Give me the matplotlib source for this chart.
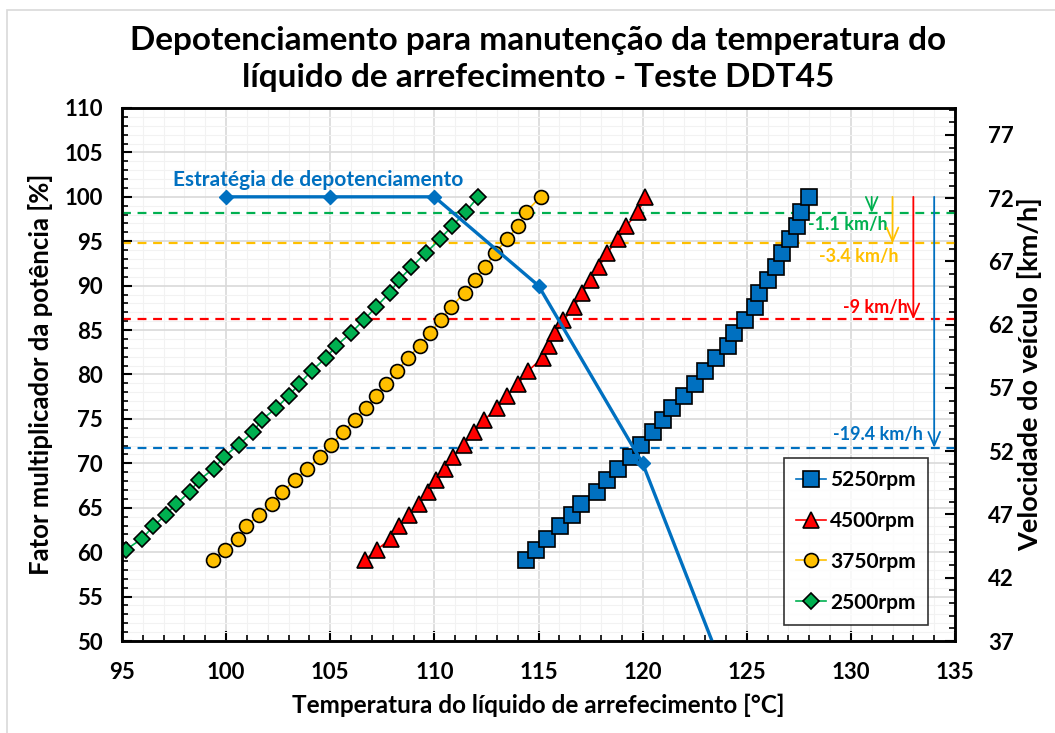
import matplotlib
matplotlib.use("Agg")
import matplotlib.pyplot as plt
from matplotlib.ticker import MultipleLocator, FixedLocator
from matplotlib.patches import Rectangle

plt.rcParams['font.family'] = ['Lato', 'DejaVu Sans']
plt.rcParams['font.weight'] = 'bold'

# power multiplier levels [%] shared by the rpm series
p_levels = [59.1, 60.3, 61.5, 62.9, 64.2, 65.4, 66.8, 68.1, 69.4, 70.75,
            72.1, 73.5, 74.9, 76.2, 77.6, 78.9, 80.4, 81.9, 83.25, 84.7,
            86.1, 87.6, 89.2, 90.65, 92.1, 93.7, 95.2, 96.7, 98.3, 100.0]

t_5250 = [114.4, 114.9, 115.4, 116.05, 116.6, 117.05, 117.8, 118.3, 118.8, 119.45,
          119.9, 120.5, 121.0, 121.4, 122.0, 122.5, 123.0, 123.5, 124.1, 124.4,
          124.9, 125.4, 125.6, 126.0, 126.4, 126.7, 127.1, 127.4, 127.6, 128.0]
t_4500 = [106.65, 107.25, 107.9, 108.3, 108.8, 109.25, 109.7, 110.1, 110.5, 110.9,
          111.4, 111.9, 112.4, 113.0, 113.5, 114.0, 114.5, 115.2, 115.5, 115.8,
          116.2, 116.7, 117.1, 117.5, 117.9, 118.3, 118.8, 119.2, 119.8, 120.1]
t_3750 = [99.35, 99.95, 100.55, 100.95, 101.6, 102.2, 102.7, 103.3, 103.9, 104.5,
          105.05, 105.6, 106.2, 106.7, 107.2, 107.7, 108.2, 108.75, 109.3, 109.8,
          110.3, 110.8, 111.45, 111.95, 112.45, 112.9, 113.5, 114.0, 114.4, 115.1]
# 2500rpm starts at the second level (first one is off the axis)
t_2500 = [95.2, 95.95, 96.5, 97.1, 97.6, 98.25, 98.7, 99.4, 99.9, 100.6,
          101.3, 101.7, 102.4, 103.0, 103.5, 104.1, 104.8, 105.3, 106.0, 106.6,
          107.2, 107.85, 108.3, 108.9, 109.6, 110.25, 110.85, 111.5, 112.1]

# derating strategy
strat_t = [100, 105, 110, 115, 120, 125]
strat_p = [100, 100, 100, 90, 70, 40]

# speed loss reference lines
ref_levels = [98.2, 94.75, 86.2, 71.75]
ref_colors = ['#00B050', '#FFC000', '#FF0000', '#0070C0']
ref_labels = ['-1.1 km/h', '-3.4 km/h', '-9 km/h', '-19.4 km/h']
arrow_x = [131, 132, 133, 134]
label_xy = [(129.85, 96.85), (130.4, 93.3), (131.2, 87.5), (131.3, 73.3)]

speed_ticks = [37, 42, 47, 52, 57, 62, 67, 72, 77]

fig = plt.figure(figsize=(10.55, 7.33), dpi=100)
ax = fig.add_axes([122 / 1055, 1 - 641 / 733, 833 / 1055, 533 / 733])

# light frame around the chart area
fig.patches.append(Rectangle((7 / 1055, -0.1), 1.2, 1 - 10 / 733 + 0.1,
                             transform=fig.transFigure, fill=False,
                             edgecolor='#d9d9d9', lw=1.2, zorder=0))

ax.set_xlim(95, 135)
ax.set_ylim(50, 110)

ax.xaxis.set_major_locator(MultipleLocator(5))
ax.xaxis.set_minor_locator(MultipleLocator(1))
ax.yaxis.set_major_locator(MultipleLocator(5))
ax.yaxis.set_minor_locator(MultipleLocator(1))
ax.grid(which='major', color='#d9d9d9', lw=1.2, zorder=0)
ax.grid(which='minor', color='#f2f2f2', lw=0.8, zorder=0)
ax.set_axisbelow(True)

ax.tick_params(which='major', direction='in', length=7, width=1.5,
               labelsize=16, top=False, right=False)
ax.tick_params(which='minor', direction='in', length=4, width=1.2,
               top=False, right=False)
ax.tick_params(axis='y', pad=14)
ax.tick_params(axis='x', pad=15)
for s in ax.spines.values():
    s.set_linewidth(1.8)

mk = dict(markeredgecolor='black', markeredgewidth=1.2)
ax.plot(t_5250, p_levels, '-s', color='#0070C0', lw=1.2, ms=11,
        markerfacecolor='#0070C0', label='5250rpm', zorder=4, **mk)
ax.plot(t_4500, p_levels, '-^', color='#FF0000', lw=1.2, ms=11,
        markerfacecolor='#FF0000', label='4500rpm', zorder=4, **mk)
ax.plot(t_3750, p_levels, '-o', color='#FFC000', lw=1.2, ms=10,
        markerfacecolor='#FFC000', label='3750rpm', zorder=4, **mk)
ax.plot(t_2500, p_levels[1:], '-D', color='#00B050', lw=1.2, ms=8.5,
        markerfacecolor='#00B050', label='2500rpm', zorder=4, **mk)

ax.plot(strat_t, strat_p, '-D', color='#0070C0', lw=2.4, ms=7,
        markeredgecolor='#0070C0', zorder=5)
ax.text(104.4, 101.9, 'Estratégia de depotenciamento', color='#0070C0',
        fontsize=15, fontweight='bold', ha='center', va='center')

for lvl, c, lab, ax_x, (lx, ly) in zip(ref_levels, ref_colors, ref_labels,
                                       arrow_x, label_xy):
    ax.axhline(lvl, color=c, lw=1.6, ls=(0, (4, 3)), zorder=3)
    ax.annotate('', xy=(ax_x, lvl), xytext=(ax_x, 100),
                arrowprops=dict(arrowstyle='->,head_length=0.7,head_width=0.3',
                                color=c, lw=1.3, mutation_scale=14,
                                shrinkA=0, shrinkB=0), zorder=6)
    ax.text(lx, ly, lab, color=c, fontsize=13, fontweight='bold',
            ha='center', va='center', zorder=6)

ax.set_xlabel('Temperatura do líquido de arrefecimento [°C]', fontsize=17.5,
              fontweight='bold', labelpad=8)
ax.set_ylabel('Fator multiplicador da potência [%]', fontsize=18.5,
              fontweight='bold', labelpad=8)

ax2 = ax.twinx()
ax2.set_ylim(37, 37 + 40 * 533 / 506)
ax2.yaxis.set_major_locator(FixedLocator(speed_ticks))
ax2.yaxis.set_minor_locator(MultipleLocator(1))
ax2.tick_params(which='major', direction='in', length=7, width=1.5,
                labelsize=16, pad=24)
ax2.tick_params(which='minor', direction='in', length=4, width=1.2)
ax2.set_ylabel('Velocidade do veículo [km/h]', fontsize=19.5,
               fontweight='bold', labelpad=2)
for s in ax2.spines.values():
    s.set_linewidth(1.8)

leg = ax.legend(loc='lower right', bbox_to_anchor=(0.9676, 0.03),
                prop={'weight': 'bold', 'size': 15},
                frameon=True, fancybox=False, edgecolor='black',
                labelspacing=1.0, handlelength=1.4, handletextpad=0.2,
                borderpad=0.6, borderaxespad=0)
leg.get_frame().set_linewidth(1.2)
leg.set_zorder(10)

fig.text(538 / 1055, 1 - 59 / 733,
         'Depotenciamento para manutenção da temperatura do\n'
         'líquido de arrefecimento - Teste DDT45',
         ha='center', va='center', fontsize=24, fontweight='bold',
         linespacing=1.3)

fig.savefig('out.png', dpi=100)
